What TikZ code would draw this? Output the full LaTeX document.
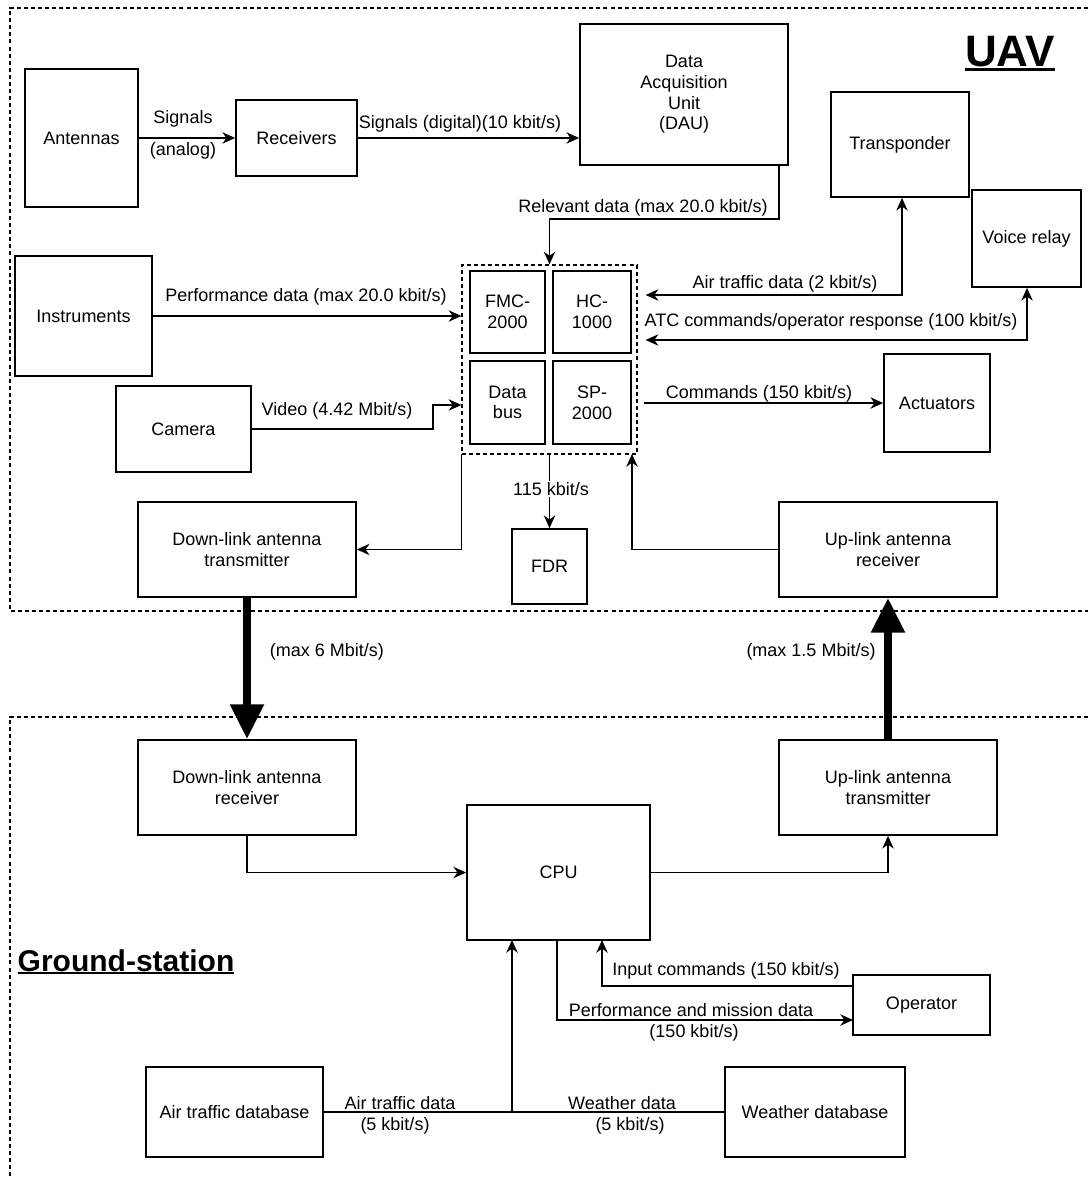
\documentclass[tikz,border=0pt]{standalone}
\usepackage{fontspec}
\setmainfont{Liberation Sans}
\usetikzlibrary{arrows.meta}
\newcommand\bx[6]{\node[box, minimum width={(#4-#2)*0.75pt}, minimum height={(#5-#3)*0.75pt}] (#1) at ({(#2+#4)/2},{(#3+#5)/2}) {#6};}
\newcommand\thul[3]{\setbox0=\hbox{#3}\rlap{\rule[#1]{\wd0}{#2}}\box0}
\begin{document}
\begin{tikzpicture}[x=0.75pt,y=-0.75pt,
  font=\fontsize{13.5}{15.5}\selectfont,
  box/.style={draw, line width=1.3pt, inner sep=0pt, align=center},
  arr/.style={line width=1.3pt, -{Stealth[length=9.5pt,width=8.5pt,inset=3pt]}},
  arrb/.style={line width=1.3pt, {Stealth[length=9.5pt,width=8.5pt,inset=3pt]}-{Stealth[length=9.5pt,width=8.5pt,inset=3pt]}},
  plain/.style={line width=1.3pt},
  fat/.style={line width=6pt, -{Triangle[length=26pt,width=24pt]}},
  region/.style={line width=0.9pt, dash pattern=on 3pt off 2.3pt},
  lbl/.style={inner sep=1pt, align=center}]
\useasboundingbox (0,0) rectangle (1088,1180);
% regions
\draw[region] (1088,8) -- (10,8) -- (10,611) -- (1088,611);
\draw[region] (1088,717) -- (10,717) -- (10,1180);
\node[font=\fontsize{33}{36}\selectfont\bfseries, anchor=base] (uav) at (1010,67) {\thul{-3.2pt}{2.2pt}{UAV}};
\node[font=\fontsize{22.5}{26}\selectfont\bfseries, anchor=base] (gs) at (126,971) {\thul{-2.4pt}{1.6pt}{Ground-station}};
% UAV boxes
\bx{ant}{25}{69}{138}{207}{Antennas}
\bx{rec}{236}{100}{357}{176}{Receivers}
\bx{dau}{580}{24}{788}{165}{Data\\Acquisition\\Unit\\(DAU)}
\bx{tra}{831}{92}{969}{197}{Transponder}
\bx{voi}{972}{190}{1081}{287}{Voice relay}
\bx{ins}{15}{256}{152}{376}{Instruments}
\node[draw, region, inner sep=0pt, minimum width={175*0.75pt}, minimum height={189*0.75pt}] (cont) at (549.5,359.5) {};
\bx{fmc}{470}{271}{545}{353}{FMC-\\2000}
\bx{hc}{553}{271}{631}{353}{HC-\\1000}
\bx{db}{470}{361}{545}{444}{Data\\bus}
\bx{sp}{553}{361}{631}{444}{SP-\\2000}
\bx{cam}{116}{386}{251}{472}{Camera}
\bx{act}{884}{354}{990}{452}{Actuators}
\bx{dlt}{138}{502}{356}{597}{Down-link antenna\\transmitter}
\bx{fdr}{512}{529}{587}{604}{FDR}
\bx{ulr}{779}{502}{997}{597}{Up-link antenna\\receiver}
% ground boxes
\bx{dlr}{138}{740}{356}{835}{Down-link antenna\\receiver}
\bx{ult}{779}{740}{997}{835}{Up-link antenna\\transmitter}
\bx{cpu}{467}{805}{650}{940}{CPU}
\bx{ope}{853}{975}{990}{1035}{Operator}
\bx{atd}{146}{1067}{323}{1157}{Air traffic database}
\bx{wdb}{725}{1067}{905}{1157}{Weather database}
% helper coordinates
\coordinate (c1) at (779,219);
\coordinate (c2) at (433,405);
\coordinate (c3) at (902,295);
\coordinate (c4) at (1027,340);
\coordinate (c5) at (632,454);
\coordinate (c6) at (557,940);
\coordinate (c7) at (853,1020);
\coordinate (c8) at (853,986);
\coordinate (c9) at (602,940);
\coordinate (c10) at (512,940);
% UAV connectors
\draw[arr] (ant.east) -- (rec.west);
\draw[arr] (rec.east) -- (rec.east -| dau.west);
\draw[arr] (dau.south -| c1) -- (c1) -| (cont.north);
\draw[arr] (ins.east) -- (ins.east -| cont.west);
\draw[arr] (cam.east) -| (c2) -- (c2 -| cont.west);
\draw[arrb, shorten <=6pt] (c3 -| cont.east) -- (c3) -- (tra.south -| c3);
\draw[arrb, shorten <=6pt] (c4 -| cont.east) -- (c4) -- (voi.south -| c4);
\draw[arr, shorten <=5pt] (act.west -| cont.east) -- (act.west);
\draw[arr] (cont.south) -- (fdr.north);
\draw[arr] (cont.south west) |- (dlt.east);
\draw[arr] (ulr.west) -| (c5);
\draw[fat] (dlt.south) -- (dlr.north);
\draw[fat] (ult.north) -- (ulr.south);
% ground connectors
\draw[arr] (dlr.south) |- (cpu.west);
\draw[arr] (cpu.east) -| (ult.south);
\draw[arr] (c6) |- (c7);
\draw[arr] (c8) -| (c9);
\draw[arr] (atd.east) -| (c10);
\draw[plain] (wdb.west) -- (wdb.west -| c10);
% labels
\node[lbl] (l1) at (183,119) {Signals};
\node[lbl] (l2) at (183,151) {(analog)};
\node[lbl] (l3) at (460,124) {Signals (digital)(10 kbit/s)};
\node[lbl] (l4) at (643,208) {Relevant data (max 20.0 kbit/s)};
\node[lbl] (l5) at (306,297) {Performance data (max 20.0 kbit/s)};
\node[lbl] (l6) at (337,411) {Video (4.42 Mbit/s)};
\node[lbl] (l7) at (785,284) {Air traffic data (2 kbit/s)};
\node[lbl] (l8) at (831,322) {ATC commands/operator response (100 kbit/s)};
\node[lbl] (l9) at (759,394) {Commands (150 kbit/s)};
\node[lbl, fill=white] (l10) at (551,489) {115 kbit/s};
\node[lbl] (l11) at (327,652) {(max 6 Mbit/s)};
\node[lbl] (l12) at (811,652) {(max 1.5 Mbit/s)};
\node[lbl] (l13) at (726,971) {Input commands (150 kbit/s)};
\node[lbl] (l14) at (691,1010) {Performance and mission data};
\node[lbl] (l15) at (694,1033) {(150 kbit/s)};
\node[lbl] (l16) at (400,1103) {Air traffic data};
\node[lbl] (l17) at (395,1126) {(5 kbit/s)};
\node[lbl] (l18) at (622,1103) {Weather data};
\node[lbl] (l19) at (630,1126) {(5 kbit/s)};
\end{tikzpicture}
\end{document}
